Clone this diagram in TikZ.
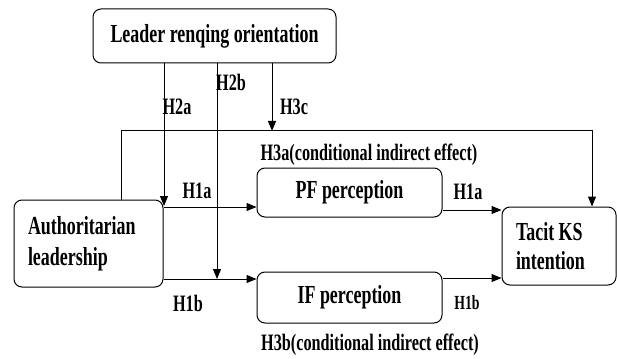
\documentclass[tikz,border=0pt]{standalone}
\usepackage{fontspec}
\setmainfont{Liberation Serif}[FakeStretch=0.69]
\usetikzlibrary{%
  calc,%
  arrows.meta%
}
\tikzset{
  box/.style={draw, rounded corners=8pt, line width=1pt, fill=white,
    font=\fontsize{26}{30}\selectfont\bfseries},
  arr/.style={-{Triangle[length=10pt,width=8pt]}, line width=1pt},
  lab/.style={font=\fontsize{23.5}{26}\selectfont\bfseries, inner sep=0pt}
}

\begin{document}
\begin{tikzpicture}[x=1pt,y=-1pt]
\useasboundingbox (0,0) rectangle (617,358);
\node[box, minimum width=243pt, minimum height=54pt] (leader) at (214.5,36) {Leader renqing orientation};
\node[box, minimum width=149pt, minimum height=87pt, text width=121pt, inner xsep=14pt, align=flush left,
  font=\fontsize{26}{31}\selectfont\bfseries] (auth) at (88.5,243.5) {Authoritarian\\leadership};
\node[box, minimum width=185pt, minimum height=49pt] (pf) at (349.5,192.5) {PF perception};
\node[box, minimum width=185pt, minimum height=51pt] (if) at (349.5,297.5) {IF perception};
\node[box, minimum width=114pt, minimum height=78pt, text width=86pt, inner xsep=14pt, align=flush left,
  font=\fontsize{26}{29}\selectfont\bfseries] (tacit) at (559,246) {Tacit KS\\intention};

\coordinate (h2a) at (164,206);
\coordinate (h2b) at (217,279);
\coordinate (h3c) at (272,131);
\coordinate (loopL) at (121,131);
\coordinate (loopR) at (592,131);

% paths through the mediators
\draw[arr] (auth.east |- 0,207) -- (pf.west |- 0,207);
\draw[arr] (auth.east |- h2b) -- (if.west |- h2b);
\draw[arr] (pf.east |- 0,210) -- (tacit.west |- 0,210);
\draw[arr] (if.east |- 0,278) -- (tacit.west |- 0,278);

% moderation
\draw[arr] (leader.south -| h2a) -- (h2a);
\draw[arr] (leader.south -| h2b) -- (h2b);
\draw[arr] (leader.south -| h3c) -- (h3c);

% direct effect
\draw[arr] (auth.north -| loopL) -- (loopL) -- (loopR) -- (tacit.north -| loopR);

\node[lab] (l2a) at (177,107) {H2a};
\node[lab] (l2b) at (231,82) {H2b};
\node[lab] (l3c) at (294,107) {H3c};
\node[lab] (l1aL) at (197,191) {H1a};
\node[lab] (l1bL) at (188,303) {H1b};
\node[lab] (l1aR) at (468,192) {H1a};
\node[lab, font=\fontsize{20}{22}\selectfont\bfseries] (l1bR) at (467,303) {H1b};
\node[lab] (l3a) at (369,155) {H3a(conditional indirect effect)};
\node[lab] (l3b) at (370,345) {H3b(conditional indirect effect)};
\end{tikzpicture}
\end{document}
